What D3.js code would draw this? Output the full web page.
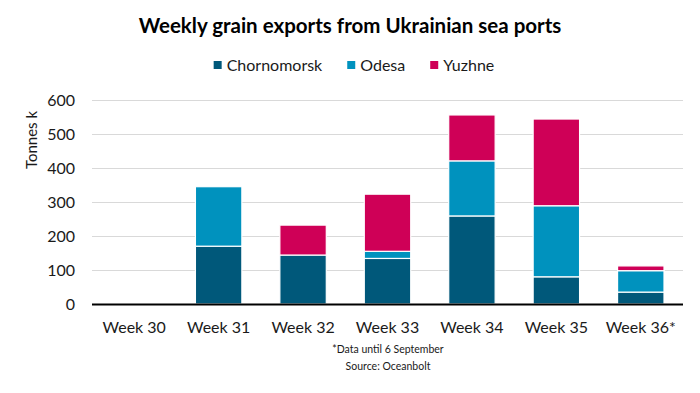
<!DOCTYPE html>
<html>
<head>
<meta charset="utf-8">
<script src="https://cdn.jsdelivr.net/npm/d3@7"></script>
<style>
  body { margin: 0; background: #fff; }
  svg { display: block; font-family: Lato, "Open Sans", sans-serif; }
</style>
</head>
<body>
<div id="chart"></div>
<script>
// data (thousand tonnes)
const weeks = ['Week 30', 'Week 31', 'Week 32', 'Week 33', 'Week 34', 'Week 35', 'Week 36*'];
const chornomorsk = [0, 170, 144, 134, 259, 80, 35];
const odesa = [0, 175, 0, 21, 162, 209, 63];
const yuzhne = [0, 0, 88, 168, 135, 255, 14];
const ports = ['Chornomorsk', 'Odesa', 'Yuzhne'];
const portColors = ['#00587a', '#0092be', '#cf0057'];
const yTicks = [0, 100, 200, 300, 400, 500, 600];

const width = 700, height = 393;
const margin = { left: 92, right: 17, top: 100, bottom: 89 };

const svg = d3.select('#chart').append('svg')
  .attr('width', width)
  .attr('height', height);

// build rows for the stack
const rows = weeks.map((w, i) => ({
  week: w,
  Chornomorsk: chornomorsk[i],
  Odesa: odesa[i],
  Yuzhne: yuzhne[i]
}));
const series = d3.stack().keys(ports)(rows);

const x = d3.scaleBand()
  .domain(weeks)
  .range([margin.left, width - margin.right])
  .paddingInner(0.45)
  .paddingOuter(0.225);

const y = d3.scaleLinear()
  .domain([0, 600])
  .range([height - margin.bottom, margin.top]);

const color = d3.scaleOrdinal().domain(ports).range(portColors);

// gridlines
svg.append('g')
  .selectAll('line')
  .data(yTicks.filter(d => d > 0))
  .join('line')
  .attr('x1', margin.left)
  .attr('x2', width - margin.right)
  .attr('y1', d => Math.round(y(d)) + 0.5)
  .attr('y2', d => Math.round(y(d)) + 0.5)
  .attr('stroke', '#d9d9d9')
  .attr('stroke-width', 1);

// y tick labels
svg.append('g')
  .selectAll('text')
  .data(yTicks)
  .join('text')
  .attr('x', 75)
  .attr('y', d => y(d))
  .attr('dy', '0.35em')
  .attr('text-anchor', 'end')
  .attr('font-size', 16)
  .attr('fill', '#1a1a1a')
  .text(d => d);

// axis title
svg.append('text')
  .attr('transform', `translate(37,140) rotate(-90)`)
  .attr('text-anchor', 'middle')
  .attr('font-size', 15)
  .attr('fill', '#1a1a1a')
  .text('Tonnes k');

// stacked bars
svg.append('g')
  .selectAll('g')
  .data(series)
  .join('g')
  .attr('fill', d => color(d.key))
  .selectAll('rect')
  .data(d => d.filter(s => s[1] - s[0] > 0))
  .join('rect')
  .attr('x', d => x(d.data.week))
  .attr('width', x.bandwidth())
  .attr('y', d => y(d[1]))
  .attr('height', d => y(d[0]) - y(d[1]))
  .attr('stroke', '#fff')
  .attr('stroke-width', 1.2);

// baseline
svg.append('line')
  .attr('x1', margin.left)
  .attr('x2', width - margin.right)
  .attr('y1', y(0) + 0.5)
  .attr('y2', y(0) + 0.5)
  .attr('stroke', '#000')
  .attr('stroke-width', 2);

// x labels
svg.append('g')
  .selectAll('text')
  .data(weeks)
  .join('text')
  .attr('x', d => x(d) + x.bandwidth() / 2)
  .attr('y', 333)
  .attr('text-anchor', 'middle')
  .attr('font-size', 16)
  .attr('fill', '#1a1a1a')
  .text(d => d);

// title
svg.append('text')
  .attr('x', 350)
  .attr('y', 33)
  .attr('text-anchor', 'middle')
  .attr('font-size', 20.5)
  .attr('font-weight', 'bold')
  .attr('fill', '#000')
  .text('Weekly grain exports from Ukrainian sea ports');

// legend
const legend = svg.append('g');
let lx = 0;
ports.forEach((p, i) => {
  const item = legend.append('g').attr('transform', `translate(${lx},0)`);
  item.append('rect')
    .attr('x', 0)
    .attr('y', 61)
    .attr('width', 8)
    .attr('height', 8)
    .attr('fill', portColors[i]);
  const t = item.append('text')
    .attr('x', 13)
    .attr('y', 71)
    .attr('font-size', 16)
    .attr('fill', '#1a1a1a')
    .text(p);
  lx += 13 + t.node().getComputedTextLength() + 25;
});
const legendWidth = lx - 25;
legend.attr('transform', `translate(${354 - legendWidth / 2},0)`);

// footnotes
svg.append('text')
  .attr('x', 388)
  .attr('y', 353)
  .attr('text-anchor', 'middle')
  .attr('font-size', 10.5)
  .attr('fill', '#1a1a1a')
  .text('*Data until 6 September');

svg.append('text')
  .attr('x', 388)
  .attr('y', 370)
  .attr('text-anchor', 'middle')
  .attr('font-size', 10.5)
  .attr('fill', '#1a1a1a')
  .text('Source: Oceanbolt');
</script>
</body>
</html>
